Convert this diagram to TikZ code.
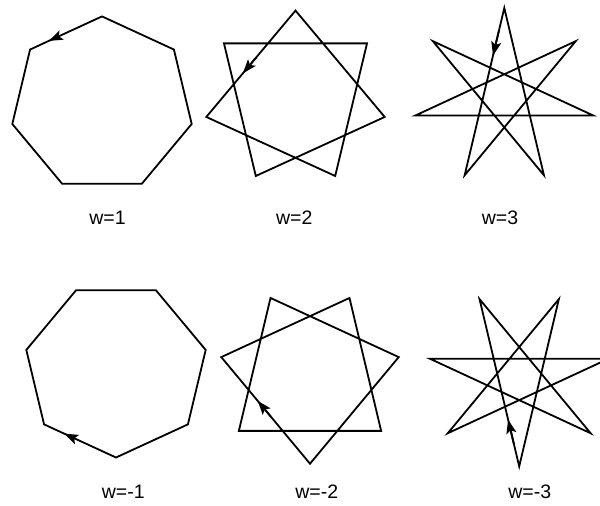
\documentclass[tikz,border=0pt]{standalone}
\usepackage{fontspec}
\setmainfont{Liberation Sans}
\usetikzlibrary{arrows.meta,calc}
\tikzset{
  starline/.style={draw=black, line width=1.8pt, line join=miter},
  dirarrow/.style={draw=black, line width=1.8pt, -{Stealth[length=14pt,width=10pt,inset=3pt]}},
  lbl/.style={anchor=base, inner sep=0pt, font=\fontsize{19.5}{22}\selectfont}
}
% #1 name, #2 cx, #3 cy, #4 Rx, #5 Ry, #6 start angle, #7 step angle, #8 arrow position
\newcommand{\heptaStar}[8]{%
  \foreach \k in {0,...,6}{%
    \coordinate (#1\k) at ({#2+#4*cos(#6+\k*#7)}, {#3-#5*sin(#6+\k*#7)});
  }
  \draw[starline] (#10) -- (#11) -- (#12) -- (#13) -- (#14) -- (#15) -- (#16) -- cycle;
  \draw[dirarrow] ($(#10)!#8-0.15!(#11)$) -- ($(#10)!#8!(#11)$);
}
\begin{document}
\begin{tikzpicture}[x=1pt, y=-1pt]
  \fill[white] (0,0) rectangle (600,506);
  \useasboundingbox (0,0) rectangle (600,506);
  % top row
  \heptaStar{a}{102}{104.4}{92}{88}{90}{51.4286}{0.74}
  \heptaStar{b}{295.5}{97.6}{91.5}{87}{90}{102.857}{0.59}
  \heptaStar{c}{504.3}{96}{91.4}{88}{90}{154.286}{0.285}
  % bottom row
  \heptaStar{d}{116}{369.5}{92}{88}{270}{-51.4286}{0.72}
  \heptaStar{e}{310}{376.5}{91}{87.2}{270}{-102.857}{0.59}
  \heptaStar{f}{519.2}{378.4}{91.4}{88}{270}{-154.286}{0.28}
  % labels
  \node[lbl] (la) at (107.5,224.3) {w=1};
  \node[lbl] (lb) at (294.2,224.3) {w=2};
  \node[lbl] (lc) at (500,224.3) {w=3};
  \node[lbl] (ld) at (123.3,498.3) {w=-1};
  \node[lbl] (le) at (316.7,498.3) {w=-2};
  \node[lbl] (lf) at (529.7,498.3) {w=-3};
\end{tikzpicture}
\end{document}
